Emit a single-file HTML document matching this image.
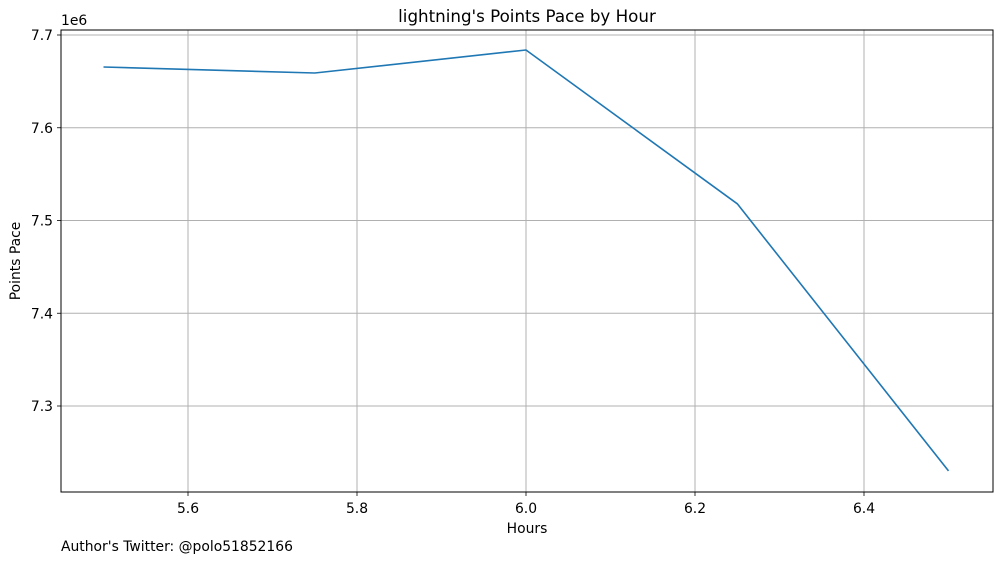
<!DOCTYPE html>
<html>
<head>
<meta charset="utf-8">
<style>
  html,body{margin:0;padding:0;background:#fff;}
  svg text{font-family:"DejaVu Sans","Liberation Sans",sans-serif;fill:#000;}
</style>
</head>
<body>
<svg id="chart" width="1001" height="562" xmlns="http://www.w3.org/2000/svg">
  <rect width="1001" height="562" fill="#fff"/>
  <g id="grid"></g>
  <g id="ticks"></g>
  <path id="line" fill="none" stroke="#1f77b4" stroke-width="1.6" stroke-linejoin="round"/>
  <rect x="61" y="30" width="932" height="462" fill="none" stroke="#000" stroke-width="1"/>
  <text x="527" y="22" font-size="16.7" text-anchor="middle">lightning's Points Pace by Hour</text>
  <text x="527" y="533" font-size="13.9" text-anchor="middle">Hours</text>
  <text transform="translate(20,261) rotate(-90)" font-size="13.9" text-anchor="middle">Points Pace</text>
  <text x="61" y="25" font-size="13.9">1e6</text>
  <text x="61" y="551" font-size="13.9">Author's Twitter: @polo51852166</text>
</svg>
<script>
const hours = [5.5, 5.75, 6.0, 6.25, 6.5];
const pace = [7.6655, 7.659, 7.6838, 7.518, 7.230];
const xTicks = [5.6, 5.8, 6.0, 6.2, 6.4];
const xTickLabels = ["5.6", "5.8", "6.0", "6.2", "6.4"];
const yTicks = [7.3, 7.4, 7.5, 7.6, 7.7];
const yTickLabels = ["7.3", "7.4", "7.5", "7.6", "7.7"];

function xs(v){ return 526 + (v - 6.0) * 845; }
function ys(v){ return 35 + (7.7 - v) * 927.5; }

const ns = "http://www.w3.org/2000/svg";
const grid = document.getElementById('grid');
const ticks = document.getElementById('ticks');
function mk(tag, attrs){ const e = document.createElementNS(ns, tag); for (const k in attrs) e.setAttribute(k, attrs[k]); return e; }

xTicks.forEach((t, i) => {
  const x = xs(t);
  const g = mk('line', {x1:x, x2:x, y1:30, y2:492, stroke:'#b0b0b0', 'stroke-width':1});
  
  
  grid.appendChild(g);
  const tk = mk('line', {x1:x, x2:x, y1:492, y2:496, stroke:'#000', 'stroke-width':0.8});
  
  
  ticks.appendChild(tk);
  const tx = mk('text', {x:x, y:513, 'font-size':13.9, 'text-anchor':'middle'});
  tx.textContent = xTickLabels[i];
  
  
  ticks.appendChild(tx);
});
yTicks.forEach((t, i) => {
  const y = ys(t);
  const g = mk('line', {x1:61, x2:993, y1:y, y2:y, stroke:'#b0b0b0', 'stroke-width':1});
  
  
  grid.appendChild(g);
  const tk = mk('line', {x1:57, x2:61, y1:y, y2:y, stroke:'#000', 'stroke-width':0.8});
  
  
  ticks.appendChild(tk);
  const tx = mk('text', {x:53, y:y + 5, 'font-size':13.9, 'text-anchor':'end'});
  tx.textContent = yTickLabels[i];
  
  
  ticks.appendChild(tx);
});
document.getElementById('line').setAttribute('d',
  hours.map((h, i) => (i ? 'L' : 'M') + xs(h).toFixed(1) + ',' + ys(pace[i]).toFixed(1)).join(' '));
</script>
</body>
</html>
